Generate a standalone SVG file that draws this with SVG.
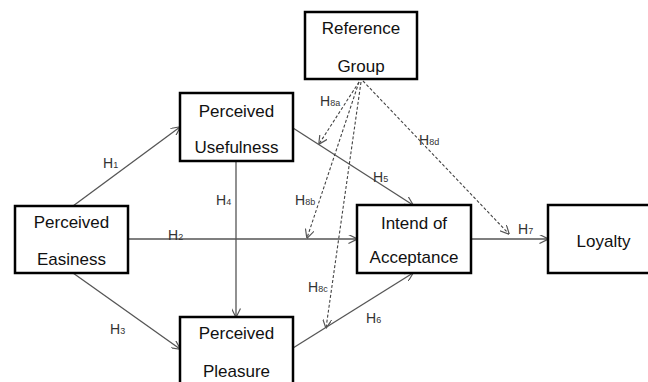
<svg xmlns="http://www.w3.org/2000/svg" width="648" height="382" viewBox="0 0 648 382">
<defs>
<style>
.box{fill:#fff;stroke:#000;stroke-width:2.5}
.t{font-family:"Liberation Sans",Arial,sans-serif;font-size:17px;fill:#111;text-anchor:middle}
.l{font-family:"Liberation Sans",Arial,sans-serif;font-size:14px;fill:#333}
.s{font-size:9px}
.c{stroke:#555;stroke-width:1.3;fill:none}
.d{stroke:#444;stroke-width:1.1;fill:none;stroke-dasharray:3,2}
</style>
<marker id="a" viewBox="0 0 10 10" refX="9.5" refY="5" markerWidth="9" markerHeight="9" orient="auto" markerUnits="userSpaceOnUse">
<path d="M0,0 L10,5 L0,10" fill="none" stroke="#555" stroke-width="1.3"/>
</marker>
</defs>
<rect width="648" height="382" fill="#fff"/>
<g id="connectors">
<line class="c" x1="73" y1="206" x2="180" y2="127" marker-end="url(#a)"/>
<line class="c" x1="128" y1="239" x2="357" y2="239" marker-end="url(#a)"/>
<line class="c" x1="73" y1="273" x2="180" y2="349" marker-end="url(#a)"/>
<line class="c" x1="236" y1="161" x2="236" y2="317" marker-end="url(#a)"/>
<line class="c" x1="293" y1="128" x2="413" y2="205" marker-end="url(#a)"/>
<line class="c" x1="293" y1="348" x2="413" y2="273" marker-end="url(#a)"/>
<line class="c" x1="471" y1="239" x2="548" y2="239" marker-end="url(#a)"/>
<line class="d" x1="359" y1="82" x2="319" y2="144" marker-end="url(#a)"/>
<line class="d" x1="359" y1="82" x2="307" y2="238" marker-end="url(#a)"/>
<line class="d" x1="361" y1="82" x2="326" y2="328" marker-end="url(#a)"/>
<line class="d" x1="363" y1="81" x2="509" y2="234" marker-end="url(#a)"/>
</g>
<g id="labels">
<text class="l" x="103" y="168">H<tspan class="s">1</tspan></text>
<text class="l" x="168" y="240">H<tspan class="s">2</tspan></text>
<text class="l" x="110" y="334">H<tspan class="s">3</tspan></text>
<text class="l" x="216" y="205">H<tspan class="s">4</tspan></text>
<text class="l" x="373" y="182">H<tspan class="s">5</tspan></text>
<text class="l" x="366" y="323">H<tspan class="s">6</tspan></text>
<text class="l" x="518" y="234">H<tspan class="s">7</tspan></text>
<text class="l" x="320" y="106">H<tspan class="s">8a</tspan></text>
<text class="l" x="295" y="205">H<tspan class="s">8b</tspan></text>
<text class="l" x="308" y="292">H<tspan class="s">8c</tspan></text>
<text class="l" x="419" y="145">H<tspan class="s">8d</tspan></text>
</g>
<g id="reference-group">
<rect class="box" x="305" y="12" width="112" height="67"/>
<text class="t" x="361" y="34">Reference</text>
<text class="t" x="361" y="72">Group</text>
</g>
<g id="perceived-usefulness">
<rect class="box" x="180" y="93" width="113" height="68"/>
<text class="t" x="236.5" y="117">Perceived</text>
<text class="t" x="236.5" y="153">Usefulness</text>
</g>
<g id="perceived-easiness">
<rect class="box" x="15" y="206" width="113" height="67"/>
<text class="t" x="71.5" y="228">Perceived</text>
<text class="t" x="71.5" y="265">Easiness</text>
</g>
<g id="perceived-pleasure">
<rect class="box" x="180" y="317" width="113" height="70"/>
<text class="t" x="236.5" y="339">Perceived</text>
<text class="t" x="236.5" y="377">Pleasure</text>
</g>
<g id="intend-of-acceptance">
<rect class="box" x="357" y="205" width="114" height="68"/>
<text class="t" x="414" y="229">Intend of</text>
<text class="t" x="414" y="263">Acceptance</text>
</g>
<g id="loyalty">
<rect class="box" x="548" y="205" width="112" height="68"/>
<text class="t" x="603.5" y="247">Loyalty</text>
</g>
</svg>
